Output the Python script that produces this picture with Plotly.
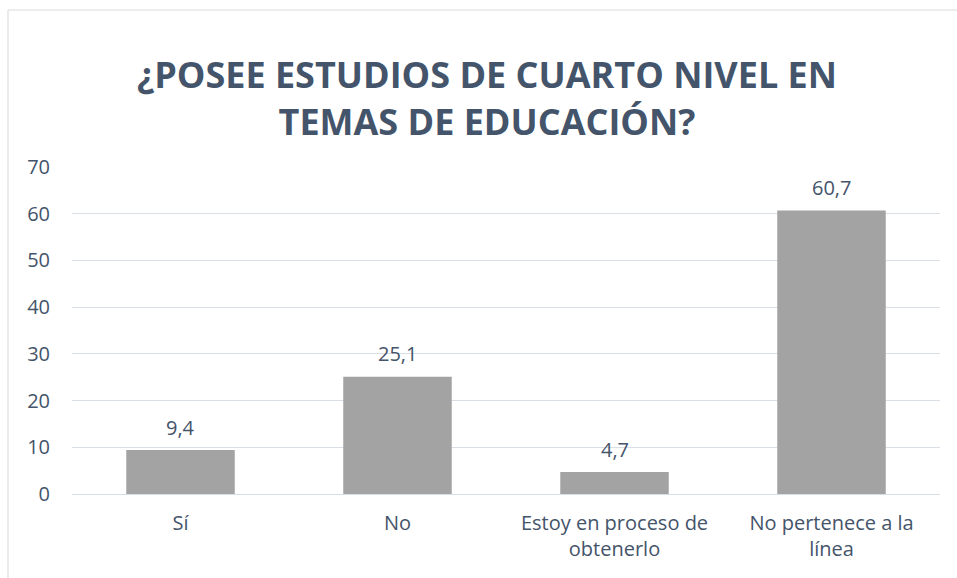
import plotly.graph_objects as go

categories = ["Sí", "No", "Estoy en proceso de<br>obtenerlo", "No pertenece a la<br>línea"]
values = [9.4, 25.1, 4.7, 60.7]
y_ticks = [0, 10, 20, 30, 40, 50, 60, 70]

text_color = "#44546A"
font_family = "Open Sans, Lato, sans-serif"

fig = go.Figure()
fig.add_trace(go.Bar(
    x=categories,
    y=values,
    marker=dict(color="#A3A3A3", line=dict(width=0)),
    width=0.5,
    cliponaxis=False,
))

W, H = 957, 578
ml, mr, mt, mb = 72, 17, 167, 84
pw, ph = W - ml - mr, H - mt - mb

annotations = [dict(
    text="<b>¿POSEE ESTUDIOS DE CUARTO NIVEL EN<br>TEMAS DE EDUCACIÓN?</b>",
    xref="paper", yref="paper",
    x=(487 - ml) / pw, y=(H - mb - 98) / ph,
    xanchor="center", yanchor="middle",
    showarrow=False,
    font=dict(size=36, color=text_color, family=font_family),
)]
for c, v in zip(categories, values):
    annotations.append(dict(
        x=c, y=v, xref="x", yref="y",
        text=f"{v:.1f}".replace(".", ","),
        showarrow=False, xanchor="center", yanchor="middle", yshift=23,
        font=dict(size=20, color=text_color, family=font_family),
    ))

fig.update_layout(
    width=W, height=H,
    margin=dict(l=ml, r=mr, t=mt, b=mb, autoexpand=False),
    paper_bgcolor="white",
    plot_bgcolor="white",
    separators=",.",
    showlegend=False,
    bargap=0.5,
    font=dict(family=font_family, color=text_color),
    annotations=annotations,
    shapes=[dict(
        type="rect", xref="paper", yref="paper",
        x0=(8 - ml) / pw, x1=(W + 20 - ml) / pw,
        y0=-(mb + 20) / ph, y1=(H - mb - 10) / ph,
        line=dict(color="#D9D9D9", width=1),
        fillcolor="rgba(0,0,0,0)", layer="below",
    )],
)

fig.update_yaxes(
    range=[0, 70], tickvals=y_ticks,
    showgrid=True, gridcolor="#D9DEE6", gridwidth=1,
    zeroline=True, zerolinecolor="#D9DEE6", zerolinewidth=1,
    tickfont=dict(size=20, color=text_color),
    ticks="", ticklen=0, showline=False, automargin=False,
    ticklabelstandoff=21,
)
fig.update_xaxes(
    tickfont=dict(size=20, color=text_color),
    showline=False, ticks="", automargin=False,
    ticklabelstandoff=15,
)

fig.write_html(
    "out.html",
    config={"displayModeBar": False},
    post_script="document.body.style.margin='0';document.body.style.overflow='hidden';",
)
